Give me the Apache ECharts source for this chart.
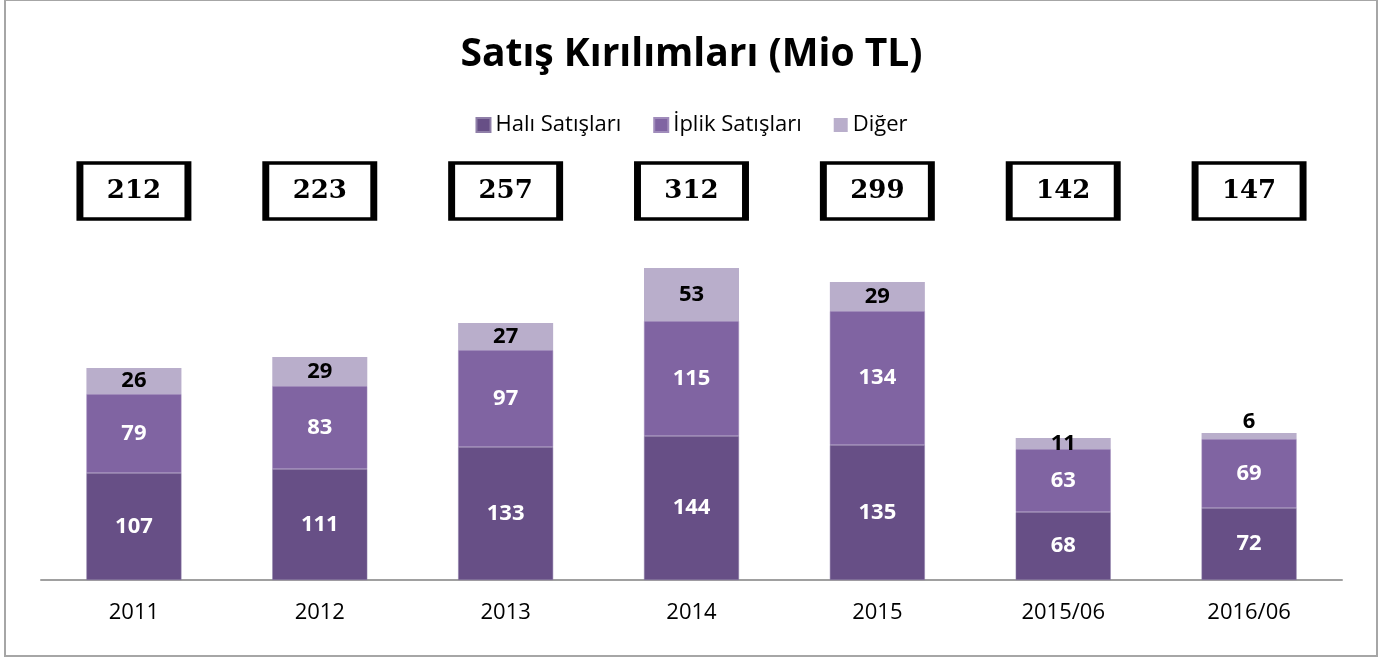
<!DOCTYPE html>
<html>
<head>
<meta charset="utf-8">
<script src="https://cdn.jsdelivr.net/npm/echarts@6/dist/echarts.min.js"></script>
<style>
  html, body { margin: 0; padding: 0; background: #fff; }
  #main { width: 1383px; height: 662px; }
</style>
</head>
<body>
<div id="main"></div>
<script>
// kategoriler ve seriler
var years = ['2011', '2012', '2013', '2014', '2015', '2015/06', '2016/06'];
var hali = [107, 111, 133, 144, 135, 68, 72];
var iplik = [79, 83, 97, 115, 134, 63, 69];
var diger = [26, 29, 27, 53, 29, 11, 6];
var toplam = [212, 223, 257, 312, 299, 142, 147];

var chartDom = document.getElementById('main');
var myChart = echarts.init(chartDom);
var option;

var whiteLabel = {
    show: true,
    position: 'inside',
    color: '#fff',
    fontWeight: 'bold',
    fontSize: 22,
    fontFamily: 'Open Sans'
};

option = {
    animation: false,
    title: {
        text: 'Satış Kırılımları (Mio TL)',
        left: 'center',
        top: 30,
        textStyle: {
            fontFamily: 'Open Sans',
            fontWeight: 'bold',
            fontSize: 39,
            color: '#000'
        }
    },
    legend: {
        top: 109,
        left: 'center',
        itemWidth: 14,
        itemHeight: 14,
        itemGap: 32,
        icon: 'rect',
        textStyle: { fontFamily: 'Open Sans', fontSize: 22, color: '#000' },
        data: ['Halı Satışları', 'İplik Satışları', 'Diğer']
    },
    graphic: [{
        type: 'rect',
        shape: { x: 5, y: 0, width: 1372, height: 656 },
        style: { fill: 'none', stroke: '#a6a6a6', lineWidth: 2 }
    }],
    grid: { left: 41, right: 41, top: 180, bottom: 82 },
    xAxis: {
        type: 'category',
        data: years,
        axisTick: { show: false },
        axisLine: { lineStyle: { color: '#a0a0a0', width: 2 } },
        axisLabel: { color: '#000', fontSize: 22, fontFamily: 'Open Sans', margin: 22 }
    },
    yAxis: {
        type: 'value',
        min: 0,
        max: 400,
        show: false,
        splitLine: { show: false }
    },
    series: [
        {
            name: 'Halı Satışları',
            type: 'bar',
            stack: 'satis',
            barWidth: 95,
            itemStyle: { color: '#674f86', borderColor: '#8f7fa8', borderWidth: 0.5 },
            label: whiteLabel,
            data: hali
        },
        {
            name: 'İplik Satışları',
            type: 'bar',
            stack: 'satis',
            itemStyle: { color: '#8064a2', borderColor: '#a08cbb', borderWidth: 0.5 },
            label: whiteLabel,
            data: iplik
        },
        {
            name: 'Diğer',
            type: 'bar',
            stack: 'satis',
            itemStyle: { color: '#b9aecb' },
            label: {
                show: true,
                position: 'inside',
                color: '#000',
                fontWeight: 'bold',
                fontSize: 22,
                fontFamily: 'Open Sans'
            },
            data: diger.map(function (v) {
                if (v < 10) {
                    return { value: v, label: { position: 'top', distance: 0 } };
                }
                return v;
            })
        },
        {
            name: 'Toplam',
            type: 'scatter',
            symbol: 'rect',
            symbolSize: [108, 56],
            clip: false,
            itemStyle: { color: '#fff', borderColor: '#000', borderWidth: 5, opacity: 1 },
            label: {
                show: true,
                position: 'inside',
                color: '#000',
                fontWeight: 'bold',
                fontSize: 26,
                fontFamily: 'DejaVu Serif',
                formatter: function (p) { return toplam[p.dataIndex]; }
            },
            data: years.map(function (y) { return [y, 389]; }),
            z: 5
        }
    ]
};

option && myChart.setOption(option);
</script>
</body>
</html>
